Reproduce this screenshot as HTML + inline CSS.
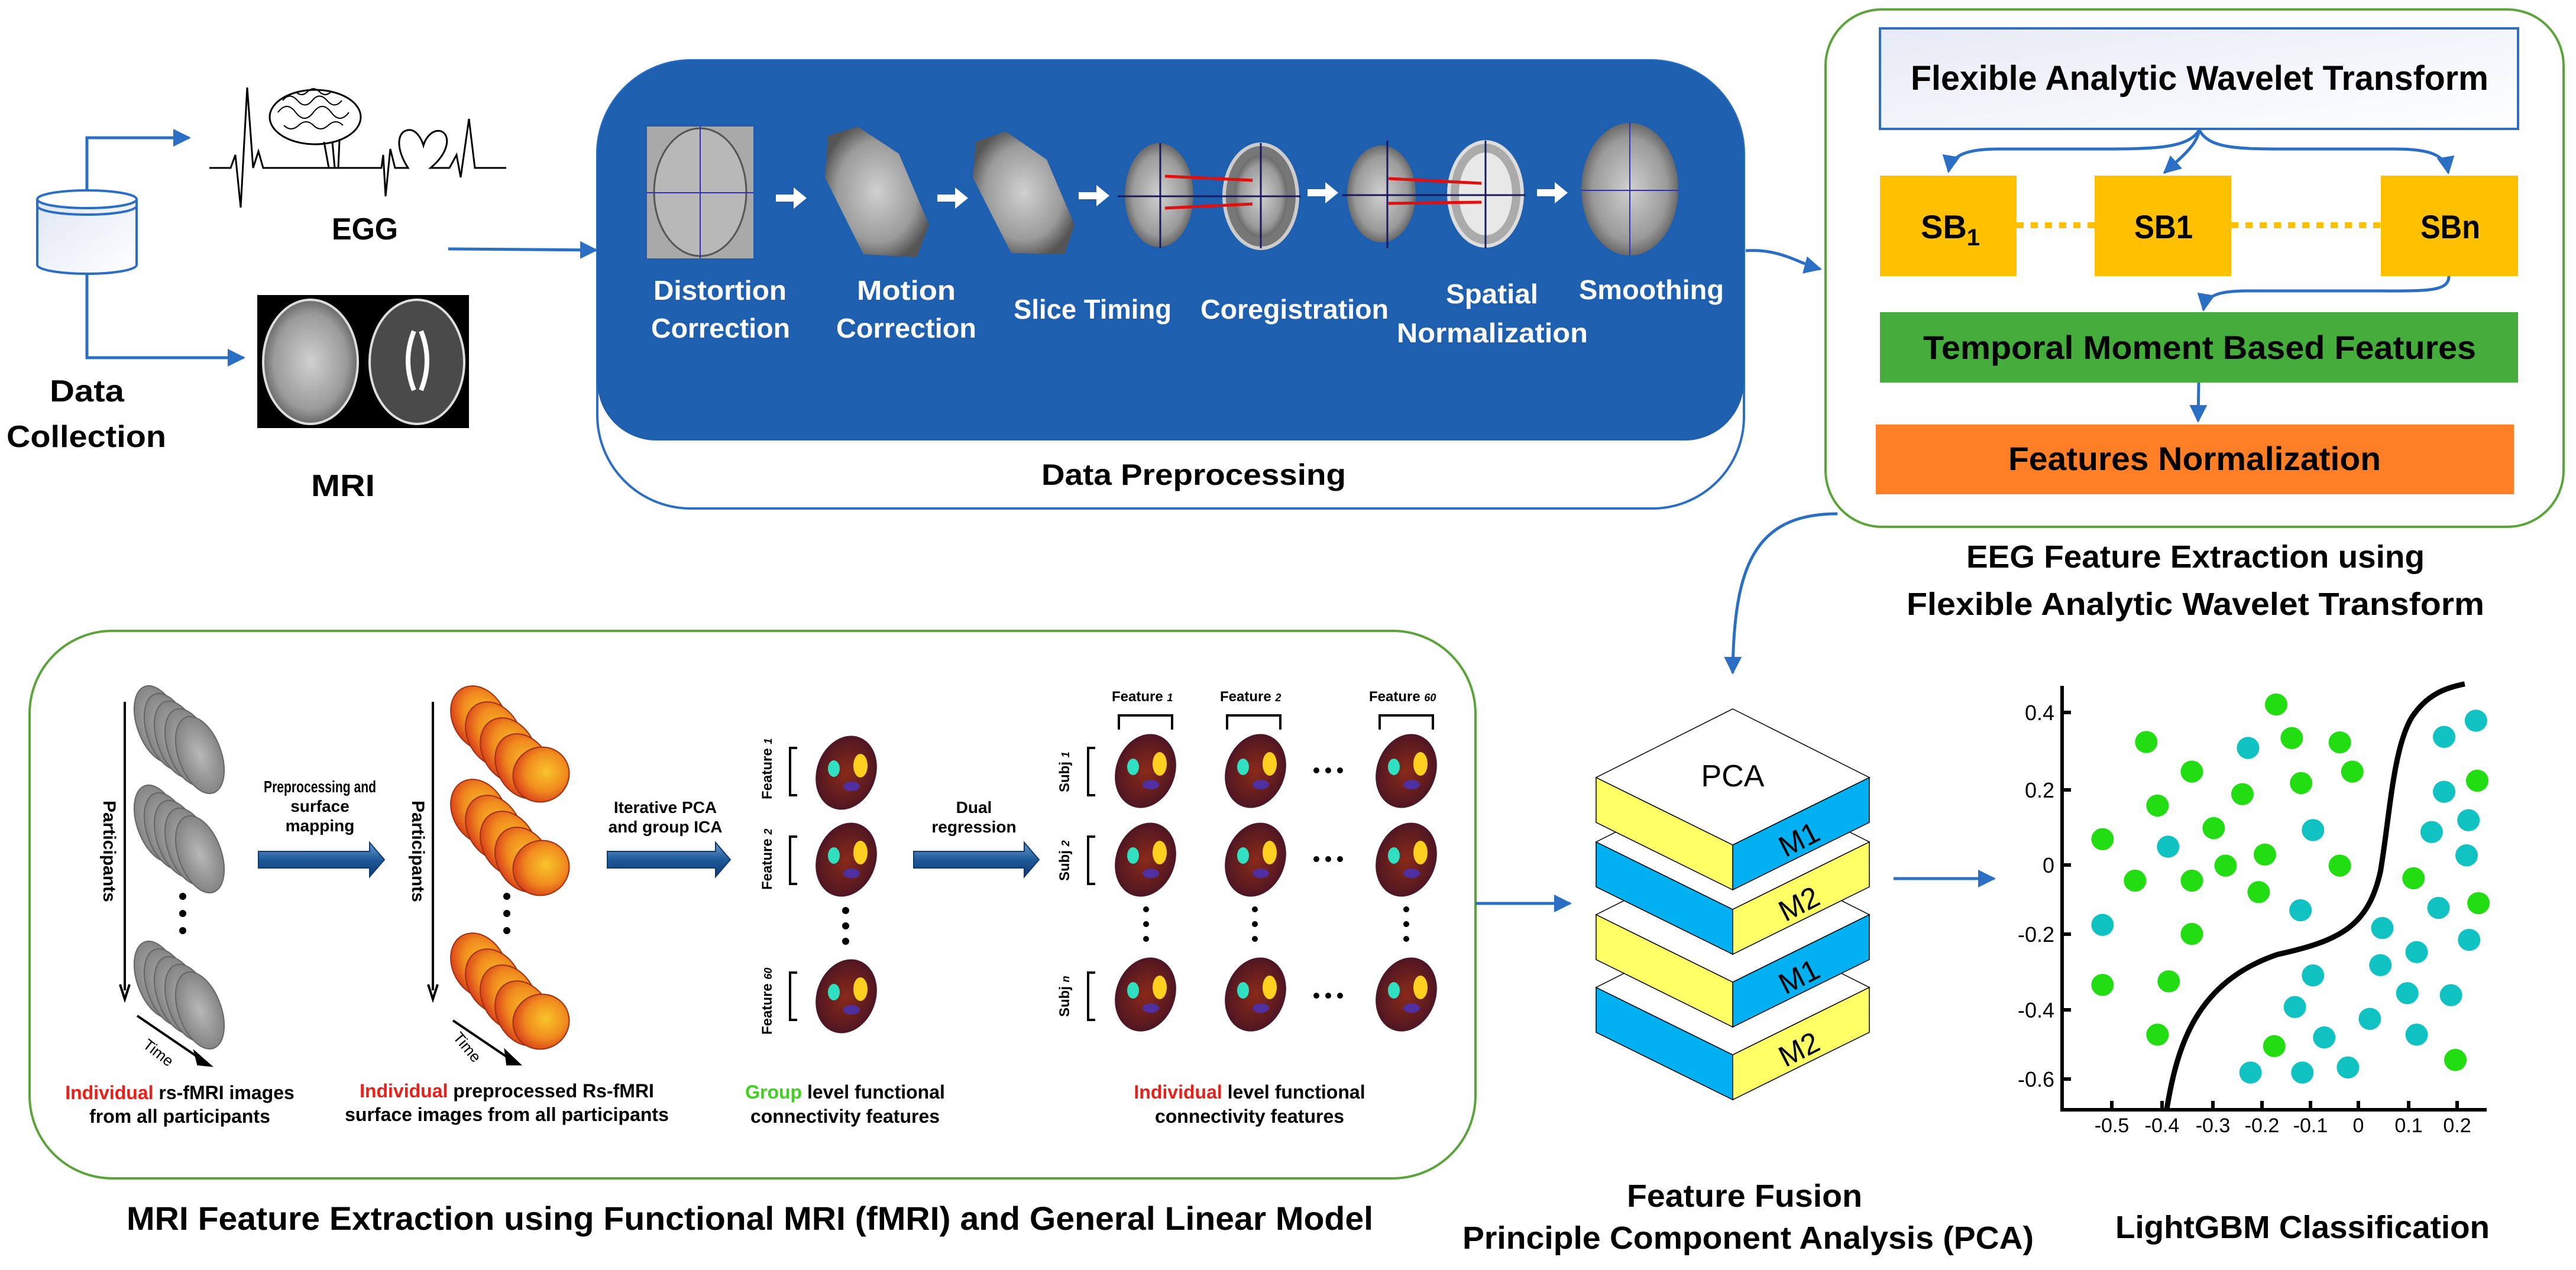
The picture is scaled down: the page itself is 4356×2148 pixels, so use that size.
<!DOCTYPE html>
<html><head><meta charset="utf-8"><style>
html,body{margin:0;padding:0;background:#fff}
svg{display:block}
text{font-family:"Liberation Sans Narrow","Liberation Sans",sans-serif}
.b{font-weight:bold}
</style></head><body>
<svg width="4356" height="2148" viewBox="0 0 4356 2148" xmlns="http://www.w3.org/2000/svg">
<defs>
<marker id="ar" viewBox="0 0 10 10" refX="9" refY="5" markerWidth="6" markerHeight="6" orient="auto" markerUnits="strokeWidth"><path d="M0,0 L10,5 L0,10 z" fill="#2B6FC4"/></marker>
<linearGradient id="fg" x1="0" y1="0" x2="1" y2="1"><stop offset="0" stop-color="#e6eaf5"/><stop offset="1" stop-color="#ffffff"/></linearGradient>
<linearGradient id="cyl" x1="0" y1="0" x2="1" y2="1"><stop offset="0" stop-color="#dfe6f3"/><stop offset="1" stop-color="#fff"/></linearGradient>
<radialGradient id="org" cx="0.6" cy="0.5" r="0.6"><stop offset="0" stop-color="#f7c52a"/><stop offset="0.6" stop-color="#f08a1e"/><stop offset="1" stop-color="#d8401a"/></radialGradient>
<radialGradient id="gry" cx="0.5" cy="0.5" r="0.6"><stop offset="0" stop-color="#b8b8b8"/><stop offset="1" stop-color="#7a7a7a"/></radialGradient>
<radialGradient id="brn" cx="0.5" cy="0.5" r="0.6"><stop offset="0" stop-color="#8a2a1a"/><stop offset="0.7" stop-color="#5a1a20"/><stop offset="1" stop-color="#3a1030"/></radialGradient>
<radialGradient id="mri" cx="0.5" cy="0.5" r="0.55"><stop offset="0" stop-color="#d0d0d0"/><stop offset="0.7" stop-color="#9a9a9a"/><stop offset="1" stop-color="#555"/></radialGradient>
<linearGradient id="fat" x1="0" y1="0" x2="0" y2="1"><stop offset="0" stop-color="#6a9bd0"/><stop offset="0.5" stop-color="#1f5a9a"/><stop offset="1" stop-color="#0f3a70"/></linearGradient>
</defs>

<!-- Data collection -->
<path d="M147,322 V233 H320" fill="none" stroke="#2B6FC4" stroke-width="5" marker-end="url(#ar)"/>
<path d="M147,463 V605 H412" fill="none" stroke="#2B6FC4" stroke-width="5" marker-end="url(#ar)"/>
<g stroke="#2B6FC4" stroke-width="4">
<path d="M63,337 V448 A84,15 0 0 0 231,448 V337" fill="url(#cyl)"/>
<ellipse cx="147" cy="337" rx="84" ry="15" fill="#fff"/>
<path d="M63,348 A84,15 0 0 0 231,348" fill="none"/>
</g>
<text x="84" y="679" class="b" font-size="52" textLength="126" lengthAdjust="spacingAndGlyphs">Data</text>
<text x="11" y="756" class="b" font-size="52" textLength="270" lengthAdjust="spacingAndGlyphs">Collection</text>

<!-- EGG image -->
<path d="M354,284 L390,284 L398,262 L407,351 L418,148 L428,284 L437,256 L445,284 L645,284 L648,262 L652,332 L660,252 L668,284 L690,284 C668,250 672,222 690,220 C702,218 712,232 716,246 C720,232 732,218 746,222 C762,228 760,258 728,284 L760,284 L772,262 L779,300 L793,201 L803,284 L856,284" fill="none" stroke="#000" stroke-width="3"/>
<ellipse cx="533" cy="198" rx="77" ry="46" fill="#fff" stroke="#000" stroke-width="3"/>
<path d="M470,190 q15,-20 30,0 t30,0 t30,0 t30,0 M478,170 q12,-15 25,0 t25,0 t25,0 t25,0 M480,212 q12,12 25,0 t25,0 t25,0 t25,0 M500,155 q10,10 20,0 t20,0 t20,0" fill="none" stroke="#000" stroke-width="2"/>
<path d="M548,240 L556,284 M562,240 L566,284 M574,238 L572,284" stroke="#000" stroke-width="3"/>
<text x="561" y="405" class="b" font-size="52" textLength="112" lengthAdjust="spacingAndGlyphs">EGG</text>

<!-- MRI image -->
<rect x="435" y="499" width="358" height="225" fill="#000"/>
<ellipse cx="525" cy="612" rx="80" ry="105" fill="url(#mri)" stroke="#ddd" stroke-width="4"/>
<ellipse cx="705" cy="612" rx="80" ry="105" fill="#4a4a4a" stroke="#ddd" stroke-width="4"/>
<path d="M700,560 q-20,50 0,100 M712,560 q20,50 0,100" stroke="#fff" stroke-width="8" fill="none"/>
<text x="526" y="839" class="b" font-size="52" textLength="108" lengthAdjust="spacingAndGlyphs">MRI</text>

<path d="M758,421 L1008,423" stroke="#2B6FC4" stroke-width="5" marker-end="url(#ar)"/>

<!-- Data preprocessing -->
<path d="M1010,260 A158,158 0 0 1 1168,102 H2790 A158,158 0 0 1 2949,260 V705 A155,155 0 0 1 2794,860 H1168 A158,158 0 0 1 1010,702 Z" fill="#fff" stroke="#2B6FC4" stroke-width="4"/>
<path d="M1010,260 A158,158 0 0 1 1168,102 H2790 A158,158 0 0 1 2949,260 V645 A100,100 0 0 1 2849,745 H1110 A100,100 0 0 1 1010,645 Z" fill="#1E5FAF"/>
<text x="1761" y="820" class="b" font-size="50" textLength="515" lengthAdjust="spacingAndGlyphs">Data Preprocessing</text>

<rect x="1094" y="214" width="180" height="223" fill="#a9a9a9"/>
<ellipse cx="1184" cy="325" rx="78" ry="108" fill="#b8b8b8" stroke="#555" stroke-width="3"/>
<path d="M1184,214 V437 M1094,326 H1274" stroke="#3030c0" stroke-width="2"/>
<path d="M1400,230 L1450,214 L1520,260 L1571,380 L1550,435 L1460,430 L1395,300 Z" fill="url(#mri)"/>
<path d="M1650,240 L1700,222 L1770,270 L1817,380 L1800,430 L1710,428 L1645,300 Z" fill="url(#mri)"/>
<ellipse cx="1960" cy="330" rx="58" ry="88" fill="url(#mri)"/>
<ellipse cx="2132" cy="332" rx="62" ry="88" fill="#777" stroke="#ccc" stroke-width="6"/>
<ellipse cx="2132" cy="332" rx="45" ry="70" fill="url(#mri)"/>
<path d="M1970,298 L2118,305 M1970,352 L2118,345" stroke="#e01010" stroke-width="5"/>
<path d="M1890,332 H2200 M1962,242 V420 M2132,242 V420" stroke="#1a1a60" stroke-width="3"/>
<ellipse cx="2336" cy="328" rx="58" ry="82" fill="url(#mri)"/>
<ellipse cx="2512" cy="328" rx="62" ry="88" fill="#aaa" stroke="#ddd" stroke-width="6"/>
<ellipse cx="2512" cy="328" rx="45" ry="70" fill="#e8e8e8"/>
<path d="M2348,302 L2505,310 M2348,344 L2505,342" stroke="#e01010" stroke-width="5"/>
<path d="M2270,330 H2580 M2346,238 V420 M2512,238 V420" stroke="#1a1a60" stroke-width="3"/>
<ellipse cx="2756" cy="320" rx="82" ry="112" fill="url(#mri)"/>
<path d="M2756,208 V432 M2674,322 H2839" stroke="#3030c0" stroke-width="2"/>
<g fill="#fff">
<path d="M1312,329 h30 v-12 l22,18 -22,18 v-12 h-30z"/>
<path d="M1585,329 h30 v-12 l22,18 -22,18 v-12 h-30z"/>
<path d="M1824,325 h30 v-12 l22,18 -22,18 v-12 h-30z"/>
<path d="M2211,320 h30 v-12 l22,18 -22,18 v-12 h-30z"/>
<path d="M2599,320 h30 v-12 l22,18 -22,18 v-12 h-30z"/>
</g>
<g fill="#fff" class="b" font-size="46">
<text x="1105" y="507" class="b" textLength="225" lengthAdjust="spacingAndGlyphs">Distortion</text>
<text x="1101" y="571" class="b" textLength="235" lengthAdjust="spacingAndGlyphs">Correction</text>
<text x="1449" y="507" class="b" textLength="167" lengthAdjust="spacingAndGlyphs">Motion</text>
<text x="1414" y="571" class="b" textLength="237" lengthAdjust="spacingAndGlyphs">Correction</text>
<text x="1714" y="539" class="b" textLength="267" lengthAdjust="spacingAndGlyphs">Slice Timing</text>
<text x="2030" y="539" class="b" textLength="318" lengthAdjust="spacingAndGlyphs">Coregistration</text>
<text x="2445" y="513" class="b" textLength="156" lengthAdjust="spacingAndGlyphs">Spatial</text>
<text x="2362" y="579" class="b" textLength="323" lengthAdjust="spacingAndGlyphs">Normalization</text>
<text x="2670" y="506" class="b" textLength="245" lengthAdjust="spacingAndGlyphs">Smoothing</text>
</g>

<path d="M2952,424 C3010,420 3040,445 3078,455" fill="none" stroke="#2B6FC4" stroke-width="5" marker-end="url(#ar)"/>

<!-- EEG box -->
<rect x="3087" y="16" width="1248" height="875" rx="95" fill="#fff" stroke="#5BA33B" stroke-width="4"/>
<rect x="3179" y="48" width="1079" height="170" fill="url(#fg)" stroke="#2E6DC0" stroke-width="4"/>
<text x="3231" y="152" class="b" font-size="58" textLength="977" lengthAdjust="spacingAndGlyphs">Flexible Analytic Wavelet Transform</text>
<g fill="none" stroke="#2B6FC4" stroke-width="5">
<path d="M3719,220 C3700,250 3650,252 3550,252 H3380 C3330,252 3300,260 3295,290" marker-end="url(#ar)"/>
<path d="M3719,220 C3715,245 3690,265 3660,292" marker-end="url(#ar)"/>
<path d="M3719,220 C3735,250 3780,252 3860,252 H4050 C4110,252 4135,262 4140,292" marker-end="url(#ar)"/>
<path d="M4141,467 C4141,495 4100,492 4000,492 H3800 C3750,492 3730,500 3726,524" marker-end="url(#ar)"/>
<path d="M3718,647 L3717,712" marker-end="url(#ar)"/>
</g>
<rect x="3179" y="297" width="231" height="170" fill="#FFC000"/>
<rect x="3542" y="297" width="231" height="170" fill="#FFC000"/>
<rect x="4026" y="297" width="232" height="170" fill="#FFC000"/>
<path d="M3410,381 H3542 M3773,381 H4026" stroke="#FFC000" stroke-width="10" stroke-dasharray="12,12"/>
<text x="3248" y="403" class="b" font-size="56">SB<tspan font-size="40" dy="12">1</tspan></text>
<text x="3609" y="403" class="b" font-size="56" textLength="99" lengthAdjust="spacingAndGlyphs">SB1</text>
<text x="4093" y="403" class="b" font-size="56" textLength="101" lengthAdjust="spacingAndGlyphs">SBn</text>
<rect x="3179" y="528" width="1079" height="119" fill="#44AD3C"/>
<text x="3252" y="607" class="b" font-size="56" textLength="935" lengthAdjust="spacingAndGlyphs">Temporal Moment Based Features</text>
<rect x="3172" y="718" width="1079" height="118" fill="#FF7F27"/>
<text x="3396" y="795" class="b" font-size="56" textLength="630" lengthAdjust="spacingAndGlyphs">Features Normalization</text>
<text x="3325" y="960" class="b" font-size="54" textLength="775" lengthAdjust="spacingAndGlyphs">EEG Feature Extraction using</text>
<text x="3224" y="1040" class="b" font-size="54" textLength="977" lengthAdjust="spacingAndGlyphs">Flexible Analytic Wavelet Transform</text>

<path d="M3107,869 C2965,869 2932,960 2930,1138" fill="none" stroke="#2B6FC4" stroke-width="5" marker-end="url(#ar)"/>

<!-- MRI feature extraction panel -->
<rect x="50" y="1067" width="2445" height="926" rx="140" fill="#fff" stroke="#5BA33B" stroke-width="4"/>
<text x="214" y="2080" class="b" font-size="56" textLength="2108" lengthAdjust="spacingAndGlyphs">MRI Feature Extraction using Functional MRI (fMRI) and General Linear Model</text>
<path d="M2495,1528 L2655,1528" stroke="#2B6FC4" stroke-width="5" marker-end="url(#ar)"/>

<g stroke="#000" stroke-width="4" fill="none">
<path d="M211,1187 V1675"/><path d="M203,1665 L211,1690 219,1665"/>
<path d="M732,1187 V1675"/><path d="M724,1665 L732,1690 740,1665"/>
<path d="M232,1718 L345,1795"/><path d="M330,1780 L355,1802 335,1800z" fill="#000"/>
<path d="M766,1726 L868,1795"/><path d="M855,1778 L878,1800 858,1800z" fill="#000"/>
</g>
<text transform="translate(175,1354) rotate(90)" font-size="30" class="b" font-family="Liberation Sans">Participants</text>
<text transform="translate(697,1354) rotate(90)" font-size="30" class="b" font-family="Liberation Sans">Participants</text>
<text transform="translate(240,1770) rotate(38)" font-size="26" font-family="Liberation Sans">Time</text>
<text transform="translate(765,1755) rotate(50)" font-size="26" font-family="Liberation Sans">Time</text>

<g id="gst">
<g fill="url(#gry)" stroke="#666" stroke-width="2">
<ellipse cx="268" cy="1225" rx="36" ry="68" transform="rotate(-20 268 1225)"/>
<ellipse cx="285" cy="1238" rx="36" ry="68" transform="rotate(-20 285 1238)"/>
<ellipse cx="302" cy="1251" rx="36" ry="68" transform="rotate(-20 302 1251)"/>
<ellipse cx="320" cy="1264" rx="36" ry="68" transform="rotate(-20 320 1264)"/>
<ellipse cx="338" cy="1277" rx="36" ry="68" transform="rotate(-20 338 1277)"/>
</g></g>
<use href="#gst" y="168"/><use href="#gst" y="432"/>
<g fill="#000"><circle cx="309" cy="1516" r="6"/><circle cx="309" cy="1545" r="6"/><circle cx="309" cy="1574" r="6"/>
<circle cx="857" cy="1516" r="6"/><circle cx="857" cy="1545" r="6"/><circle cx="857" cy="1574" r="6"/>
<circle cx="1430" cy="1540" r="6"/><circle cx="1430" cy="1566" r="6"/><circle cx="1430" cy="1592" r="6"/></g>

<g id="ost">
<g fill="url(#org)" stroke="#a03010" stroke-width="2">
<ellipse cx="810" cy="1215" rx="44" ry="58" transform="rotate(-30 810 1215)"/>
<ellipse cx="835" cy="1242" rx="44" ry="58" transform="rotate(-30 835 1242)"/>
<ellipse cx="860" cy="1269" rx="44" ry="58" transform="rotate(-30 860 1269)"/>
<ellipse cx="885" cy="1296" rx="44" ry="58" transform="rotate(-30 885 1296)"/>
<ellipse cx="915" cy="1310" rx="48" ry="46" transform="rotate(-30 915 1310)"/>
</g></g>
<use href="#ost" y="158"/><use href="#ost" y="418"/>

<text x="541" y="1340" font-size="28" text-anchor="middle" class="b" textLength="190" lengthAdjust="spacingAndGlyphs">Preprocessing and</text>
<text x="541" y="1373" font-size="28" text-anchor="middle" class="b">surface</text>
<text x="541" y="1406" font-size="28" text-anchor="middle" class="b">mapping</text>
<text x="1125" y="1375" font-size="28" text-anchor="middle" class="b">Iterative PCA</text>
<text x="1125" y="1408" font-size="28" text-anchor="middle" class="b">and group ICA</text>
<text x="1647" y="1375" font-size="28" text-anchor="middle" class="b">Dual</text>
<text x="1647" y="1408" font-size="28" text-anchor="middle" class="b">regression</text>
<g fill="url(#fat)" stroke="#0f3a70" stroke-width="2">
<path d="M437,1440 H625 V1425 L650,1454 625,1483 V1468 H437Z"/>
<path d="M1027,1440 H1210 V1425 L1235,1454 1210,1483 V1468 H1027Z"/>
<path d="M1545,1440 H1732 V1425 L1757,1454 1732,1483 V1468 H1545Z"/>
</g>

<g id="bg">
<ellipse cx="1431" cy="1307" rx="64" ry="50" fill="url(#brn)" transform="rotate(-70 1431 1307)"/>
<ellipse cx="1410" cy="1300" rx="10" ry="14" fill="#30e0c0"/>
<ellipse cx="1455" cy="1295" rx="12" ry="20" fill="#ffd020"/>
<ellipse cx="1440" cy="1330" rx="14" ry="8" fill="#5030a0"/>
</g>
<use href="#bg" y="147"/><use href="#bg" y="378"/>
<g fill="none" stroke="#000" stroke-width="4">
<path d="M1348,1265 h-12 v80 h12 M1348,1415 h-12 v80 h12 M1348,1645 h-12 v80 h12"/>
<path d="M1852,1265 h-12 v80 h12 M1852,1415 h-12 v80 h12 M1852,1645 h-12 v80 h12"/>
<path d="M1892,1234 v-24 h90 v24 M2075,1234 v-24 h90 v24 M2333,1234 v-24 h90 v24"/>
</g>
<g font-size="24" class="b" font-family="Liberation Sans">
<text transform="translate(1305,1352) rotate(-90)">Feature <tspan font-style="italic" font-size="18">1</tspan></text>
<text transform="translate(1305,1505) rotate(-90)">Feature <tspan font-style="italic" font-size="18">2</tspan></text>
<text transform="translate(1305,1750) rotate(-90)">Feature <tspan font-style="italic" font-size="18">60</tspan></text>
<text transform="translate(1808,1340) rotate(-90)">Subj <tspan font-style="italic" font-size="18">1</tspan></text>
<text transform="translate(1808,1490) rotate(-90)">Subj <tspan font-style="italic" font-size="18">2</tspan></text>
<text transform="translate(1808,1720) rotate(-90)">Subj <tspan font-style="italic" font-size="18">n</tspan></text>
<text x="1880" y="1186">Feature <tspan font-style="italic" font-size="18">1</tspan></text>
<text x="2063" y="1186">Feature <tspan font-style="italic" font-size="18">2</tspan></text>
<text x="2315" y="1186">Feature <tspan font-style="italic" font-size="18">60</tspan></text>
</g>
<use href="#bg" x="506" y="-3"/><use href="#bg" x="692" y="-3"/><use href="#bg" x="947" y="-3"/>
<use href="#bg" x="506" y="147"/><use href="#bg" x="692" y="147"/><use href="#bg" x="947" y="147"/>
<use href="#bg" x="506" y="375"/><use href="#bg" x="692" y="375"/><use href="#bg" x="947" y="375"/>
<g fill="#000">
<circle cx="2226" cy="1303" r="5"/><circle cx="2246" cy="1303" r="5"/><circle cx="2266" cy="1303" r="5"/>
<circle cx="2226" cy="1453" r="5"/><circle cx="2246" cy="1453" r="5"/><circle cx="2266" cy="1453" r="5"/>
<circle cx="2226" cy="1684" r="5"/><circle cx="2246" cy="1684" r="5"/><circle cx="2266" cy="1684" r="5"/>
<circle cx="1938" cy="1538" r="5"/><circle cx="1938" cy="1563" r="5"/><circle cx="1938" cy="1588" r="5"/>
<circle cx="2122" cy="1538" r="5"/><circle cx="2122" cy="1563" r="5"/><circle cx="2122" cy="1588" r="5"/>
<circle cx="2378" cy="1538" r="5"/><circle cx="2378" cy="1563" r="5"/><circle cx="2378" cy="1588" r="5"/>
</g>
<g font-size="32" class="b" text-anchor="middle">
<text x="304" y="1859"><tspan fill="#e8201a">Individual</tspan> rs-fMRI images</text>
<text x="304" y="1899">from all participants</text>
<text x="857" y="1856"><tspan fill="#e8201a">Individual</tspan> preprocessed Rs-fMRI</text>
<text x="857" y="1896">surface images from all participants</text>
<text x="1429" y="1858"><tspan fill="#40d020">Group</tspan> level functional</text>
<text x="1429" y="1899">connectivity features</text>
<text x="2113" y="1858"><tspan fill="#e8201a">Individual</tspan> level functional</text>
<text x="2113" y="1899">connectivity features</text>
</g>

<!-- Fusion stack -->
<g stroke="#000" stroke-width="1.5">
<g id="slab4">
<path d="M2699,1670 L2930,1784 L2930,1860 L2699,1746Z" fill="#00B0F0"/>
<path d="M2930,1784 L3161,1670 L3161,1746 L2930,1860Z" fill="#FFFF66"/>
<path d="M2930,1554 L3161,1670 L2930,1784 L2699,1670Z" fill="#fff"/>
</g>
<path d="M2699,1547 L2930,1661 L2930,1737 L2699,1623Z" fill="#FFFF66"/>
<path d="M2930,1661 L3161,1547 L3161,1623 L2930,1737Z" fill="#00B0F0"/>
<path d="M2930,1431 L3161,1547 L2930,1661 L2699,1547Z" fill="#fff"/>
<path d="M2699,1424 L2930,1538 L2930,1614 L2699,1500Z" fill="#00B0F0"/>
<path d="M2930,1538 L3161,1424 L3161,1500 L2930,1614Z" fill="#FFFF66"/>
<path d="M2930,1308 L3161,1424 L2930,1538 L2699,1424Z" fill="#fff"/>
<path d="M2699,1315 L2930,1429 L2930,1505 L2699,1391Z" fill="#FFFF66"/>
<path d="M2930,1429 L3161,1315 L3161,1391 L2930,1505Z" fill="#00B0F0"/>
<path d="M2930,1199 L3161,1315 L2930,1429 L2699,1315Z" fill="#fff"/>
</g>
<text x="2930" y="1330" font-size="52" text-anchor="middle" font-family="Liberation Sans">PCA</text>
<g font-size="50" text-anchor="middle" font-family="Liberation Sans">
<text transform="translate(3050,1435) rotate(-27)">M1</text>
<text transform="translate(3050,1544) rotate(-27)">M2</text>
<text transform="translate(3050,1667) rotate(-27)">M1</text>
<text transform="translate(3050,1790) rotate(-27)">M2</text>
</g>
<text x="2751" y="2041" class="b" font-size="54" textLength="398" lengthAdjust="spacingAndGlyphs">Feature Fusion</text>
<text x="2473" y="2112" class="b" font-size="54" textLength="966" lengthAdjust="spacingAndGlyphs">Principle Component Analysis (PCA)</text>
<path d="M3202,1486 L3372,1486" stroke="#2B6FC4" stroke-width="5" marker-end="url(#ar)"/>

<!-- Plot -->
<path d="M3487,1160 V1877 H4205" fill="none" stroke="#000" stroke-width="6"/>
<g stroke="#000" stroke-width="6">
<path d="M3487,1205 h15 M3487,1336 h15 M3487,1463 h15 M3487,1580 h15 M3487,1708 h15 M3487,1825 h15"/>
<path d="M3571,1877 v-15 M3656,1877 v-15 M3742,1877 v-15 M3825,1877 v-15 M3907,1877 v-15 M3988,1877 v-15 M4073,1877 v-15 M4155,1877 v-15"/>
</g>
<g font-size="36" text-anchor="end">
<text x="3474" y="1218">0.4</text><text x="3474" y="1349">0.2</text><text x="3474" y="1476">0</text>
<text x="3474" y="1593">-0.2</text><text x="3474" y="1721">-0.4</text><text x="3474" y="1838">-0.6</text>
</g>
<g font-size="34" text-anchor="middle">
<text x="3571" y="1915">-0.5</text><text x="3656" y="1915">-0.4</text><text x="3742" y="1915">-0.3</text><text x="3825" y="1915">-0.2</text>
<text x="3907" y="1915">-0.1</text><text x="3988" y="1915">0</text><text x="4073" y="1915">0.1</text><text x="4155" y="1915">0.2</text>
</g>
<g transform="translate(2700,1100) scale(1.056,0.668)">
<g fill="#22DD11">
<ellipse cx="1088" cy="137" rx="18" ry="28"/><ellipse cx="880" cy="232" rx="18" ry="28"/><ellipse cx="1113" cy="222" rx="18" ry="28"/><ellipse cx="1190" cy="233" rx="18" ry="28"/>
<ellipse cx="953" cy="307" rx="18" ry="28"/><ellipse cx="1210" cy="307" rx="18" ry="28"/><ellipse cx="1128" cy="336" rx="18" ry="28"/><ellipse cx="1034" cy="364" rx="18" ry="28"/>
<ellipse cx="898" cy="393" rx="18" ry="28"/><ellipse cx="988" cy="450" rx="18" ry="28"/><ellipse cx="810" cy="478" rx="18" ry="28"/><ellipse cx="1070" cy="517" rx="18" ry="28"/>
<ellipse cx="1007" cy="545" rx="18" ry="28"/><ellipse cx="1190" cy="545" rx="18" ry="28"/><ellipse cx="862" cy="583" rx="18" ry="28"/><ellipse cx="953" cy="583" rx="18" ry="28"/>
<ellipse cx="1060" cy="612" rx="18" ry="28"/><ellipse cx="1308" cy="577" rx="18" ry="28"/><ellipse cx="953" cy="718" rx="18" ry="28"/><ellipse cx="810" cy="847" rx="18" ry="28"/>
<ellipse cx="916" cy="838" rx="18" ry="28"/><ellipse cx="898" cy="973" rx="18" ry="28"/><ellipse cx="1085" cy="1002" rx="18" ry="28"/><ellipse cx="1375" cy="1037" rx="18" ry="28"/>
<ellipse cx="1410" cy="330" rx="18" ry="28"/><ellipse cx="1412" cy="640" rx="18" ry="28"/>
</g>
<g fill="#11C2C2">
<ellipse cx="1043" cy="247" rx="18" ry="28"/><ellipse cx="1357" cy="219" rx="18" ry="28"/><ellipse cx="1408" cy="178" rx="18" ry="28"/><ellipse cx="1357" cy="358" rx="18" ry="28"/>
<ellipse cx="1147" cy="455" rx="18" ry="28"/><ellipse cx="1337" cy="460" rx="18" ry="28"/><ellipse cx="1396" cy="430" rx="18" ry="28"/><ellipse cx="1393" cy="519" rx="18" ry="28"/>
<ellipse cx="915" cy="497" rx="18" ry="28"/><ellipse cx="1127" cy="658" rx="18" ry="28"/><ellipse cx="1348" cy="652" rx="18" ry="28"/><ellipse cx="810" cy="695" rx="18" ry="28"/>
<ellipse cx="1258" cy="703" rx="18" ry="28"/><ellipse cx="1397" cy="733" rx="18" ry="28"/><ellipse cx="1313" cy="764" rx="18" ry="28"/><ellipse cx="1147" cy="823" rx="18" ry="28"/>
<ellipse cx="1255" cy="797" rx="18" ry="28"/><ellipse cx="1118" cy="903" rx="18" ry="28"/><ellipse cx="1298" cy="868" rx="18" ry="28"/><ellipse cx="1368" cy="873" rx="18" ry="28"/>
<ellipse cx="1238" cy="933" rx="18" ry="28"/><ellipse cx="1165" cy="980" rx="18" ry="28"/><ellipse cx="1313" cy="973" rx="18" ry="28"/><ellipse cx="1047" cy="1069" rx="18" ry="28"/>
<ellipse cx="1130" cy="1069" rx="18" ry="28"/><ellipse cx="1203" cy="1056" rx="18" ry="28"/>
</g>
<path d="M913,1160 C930,1000 960,840 1090,770 C1190,735 1235,700 1255,560 C1270,420 1275,250 1305,170 C1330,110 1360,95 1390,85" fill="none" stroke="#000" stroke-width="9" vector-effect="non-scaling-stroke"/>
</g>
<text x="3577" y="2094" class="b" font-size="54" textLength="633" lengthAdjust="spacingAndGlyphs">LightGBM Classification</text>
</svg>
</body></html>
